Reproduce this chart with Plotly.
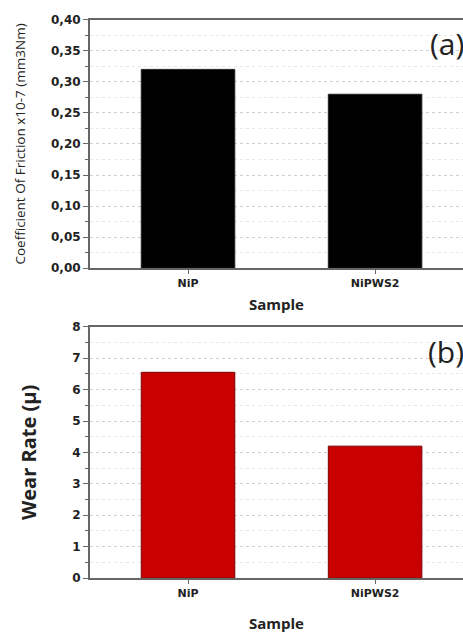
import plotly.graph_objects as go

samples = ["NiP", "NiPWS2"]
friction = [0.32, 0.28]
wear_rate = [6.55, 4.2]

fig = go.Figure()
fig.add_trace(go.Bar(x=samples, y=friction, width=0.5, xaxis="x", yaxis="y",
                     marker=dict(color="#000000", line=dict(color="#222222", width=1)),
                     showlegend=False))
fig.add_trace(go.Bar(x=samples, y=wear_rate, width=0.5, xaxis="x2", yaxis="y2",
                     marker=dict(color="#c80000", line=dict(color="#7a0000", width=1)),
                     showlegend=False))

tickfont = dict(family="DejaVu Sans", size=12, color="#222222", weight="bold")
xtickfont = dict(family="DejaVu Sans", size=11, color="#222222", weight="bold")
xcommon = dict(range=[-0.524, 1.47], showline=True, linecolor="#666666", linewidth=2,
               mirror=True, ticks="outside", ticklen=4, tickcolor="#666666",
               tickfont=xtickfont, showgrid=False, zeroline=False)
ycommon = dict(showline=True, linecolor="#666666", linewidth=2, ticks="outside",
               ticklen=5, tickcolor="#666666", tickfont=tickfont,
               showgrid=True, gridcolor="#d0d0d0", griddash="dot", gridwidth=1,
               zeroline=False)
sample_font = dict(family="Open Sans, sans-serif", size=15, color="#222222", weight="bold")

fig.update_layout(
    width=463, height=633,
    margin=dict(l=0, r=0, t=0, b=0),
    paper_bgcolor="white", plot_bgcolor="white",
    separators=", ",
    bargap=0.5,
    font=dict(family="DejaVu Sans", color="#333333"),
    xaxis=dict(domain=[0.1944, 1.0], anchor="y", **xcommon,
               title=dict(text="Sample", font=sample_font, standoff=10)),
    yaxis=dict(domain=[0.578, 0.9795], anchor="x", range=[0, 0.40], dtick=0.05, tickformat=".2f",
               minor=dict(dtick=0.025, ticks="outside", ticklen=3, tickcolor="#666666",
                          showgrid=True, gridcolor="#e8e8e8", griddash="dot"),
               title=dict(text="Coefficient Of Friction x10-7 (mm3Nm)",
                          font=dict(family="Open Sans, sans-serif", size=13.5, color="#222222"), standoff=22),
               **ycommon),
    xaxis2=dict(domain=[0.1944, 1.0], anchor="y2", **xcommon,
                title=dict(text="Sample", font=sample_font, standoff=20)),
    yaxis2=dict(domain=[0.0774, 0.4834], anchor="x2", range=[0, 8], dtick=1,
                minor=dict(dtick=0.5, ticks="outside", ticklen=3, tickcolor="#666666",
                           showgrid=True, gridcolor="#e8e8e8", griddash="dot"),
                title=dict(text="Wear Rate (μ)",
                           font=dict(family="Open Sans, sans-serif", size=20, color="#222222", weight="bold"),
                           standoff=30),
                **ycommon),
)

fig.add_annotation(text="(a)", xref="paper", yref="paper", x=1.006, y=1 - 37 / 633,
                   xanchor="right", yanchor="middle", showarrow=False,
                   font=dict(family="Open Sans, sans-serif", size=30, color="#222222"))
fig.add_annotation(text="(b)", xref="paper", yref="paper", x=1.006, y=1 - 352 / 633,
                   xanchor="right", yanchor="middle", showarrow=False,
                   font=dict(family="Open Sans, sans-serif", size=30, color="#222222"))

fig.write_html("out.html", config={"displayModeBar": False},
               post_script="document.body.style.margin='0';document.body.style.overflow='hidden';")
